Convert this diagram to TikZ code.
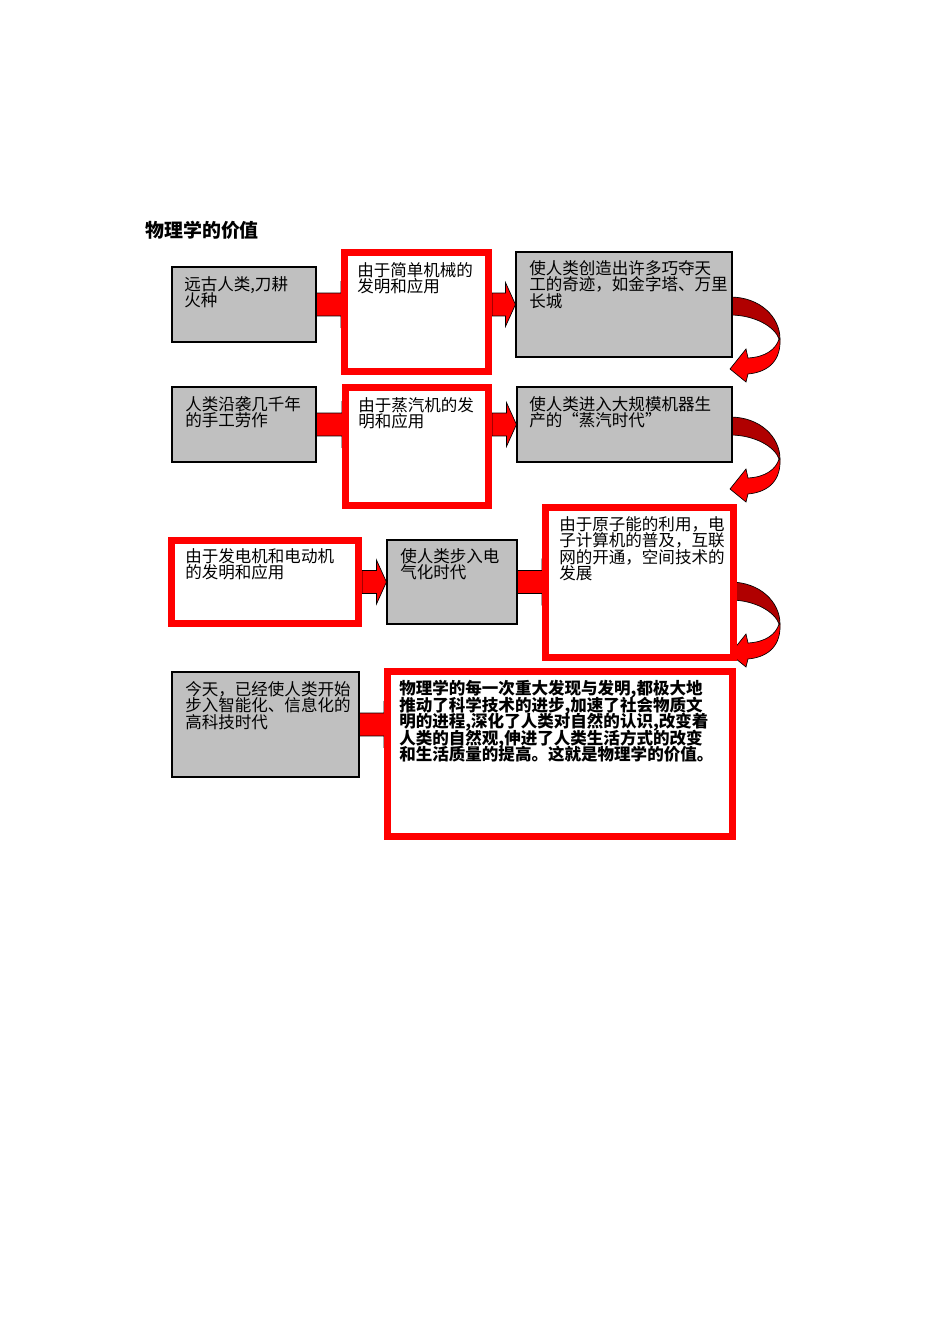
\documentclass[tikz,border=0pt]{standalone}
\usepackage{fontspec}
\setmainfont{Noto Sans CJK SC}
\usetikzlibrary{calc,fit}
\definecolor{boxgray}{HTML}{C0C0C0}
\definecolor{darkred}{HTML}{B00000}
\pgfdeclarelayer{background}
\pgfsetlayers{background,main}
\newcommand\boxfont{\fontsize{12.4}{12.4}\selectfont\lineskiplimit=-20pt\relax}
\tikzset{
  graybox/.style={draw=black, line width=0.8pt, fill=boxgray, inner sep=0pt},
  redbox/.style={draw=red, line width=5.25pt, fill=white, inner sep=0pt},
  txt/.style={anchor=north west, inner sep=0pt, align=left, font=\boxfont},
  heading/.style={anchor=north west, inner sep=0pt, font=\fontsize{14.2}{14}\selectfont\bfseries},
  fatarrow/.style={draw=black, line width=0.5pt, fill=red,
    to path={let \p1=(\tikztostart), \p2=(\tikztotarget) in
      (\x1,\y1+8.6pt) -- (\x2-7.5pt,\y1+8.6pt) -- (\x2-7.5pt,\y1+16.5pt) -- (\x2,\y1)
      -- (\x2-7.5pt,\y1-16.5pt) -- (\x2-7.5pt,\y1-8.6pt) -- (\x1,\y1-8.6pt) -- cycle}},
  bendarrow/.pic={
    \filldraw[fill=darkred, draw=black, line width=0.5pt] (0,0) .. controls (30,0) and (50,20) .. (50,42)
      -- (49,42) .. controls (45,30) and (25,18) .. (0,18) -- cycle;
    \filldraw[fill=red, draw=black, line width=0.5pt] (50,42) .. controls (51,62) and (40,75) .. (18,77)
      -- (16,85) -- (0,72) -- (16,52) -- (18,61) .. controls (36,60) and (46,52) .. (49,42) -- cycle;
  }
}
\begin{document}
\begin{tikzpicture}[x=0.75pt,y=-0.75pt]
\useasboundingbox (0,0) rectangle (950,1344);
\node[heading] (title) at (145,221) {物理学的价值};

% first row
\node[graybox, fit={(172,267) (316,342)}] (a1) {};
\node[redbox, fit={(344.5,252.5) (488.5,371.5)}] (b1) {};
\node[graybox, fit={(516,252) (732,357)}] (c1) {};
\node[txt] (a1t) at (184,276) {远古人类,刀耕\\火种};
\node[txt] (b1t) at (357,262) {由于简单机械的\\发明和应用};
\node[txt] (c1t) at (529,260) {使人类创造出许多巧夺天\\工的奇迹，如金字塔、万里\\长城};

% second row
\node[graybox, fit={(172,387) (316,462)}] (a2) {};
\node[redbox, fit={(345.5,387.5) (488.5,505.5)}] (b2) {};
\node[graybox, fit={(517,387) (732,462)}] (c2) {};
\node[txt] (a2t) at (185,396) {人类沿袭几千年\\的手工劳作};
\node[txt] (b2t) at (358,397) {由于蒸汽机的发\\明和应用};
\node[txt] (c2t) at (529,396) {使人类进入大规模机器生\\产的“蒸汽时代”};

% third row
\node[redbox, fit={(171.5,540.5) (358.5,623.5)}] (a3) {};
\node[graybox, fit={(387,540) (517,624)}] (b3) {};
\node[redbox, fit={(545.5,507.5) (733.5,657.5)}] (c3) {};
\node[txt] (a3t) at (185,548) {由于发电机和电动机\\的发明和应用};
\node[txt] (b3t) at (400,548) {使人类步入电\\气化时代};
\node[txt] (c3t) at (559,516) {由于原子能的利用，电\\子计算机的普及，互联\\网的开通，空间技术的\\发展};

% last row
\node[graybox, fit={(172,672) (359,777)}] (a4) {};
\node[redbox, fit={(387.5,671.5) (732.5,836.5)}] (b4) {};
\node[txt] (a4t) at (185,681) {今天，已经使人类开始\\步入智能化、信息化的\\高科技时代};
\node[txt, font=\boxfont\bfseries] (b4t) at (399,680)
  {物理学的每一次重大发现与发明,都极大地\\推动了科学技术的进步,加速了社会物质文\\明的进程,深化了人类对自然的认识,改变着\\人类的自然观,伸进了人类生活方式的改变\\和生活质量的提高。这就是物理学的价值。};

\begin{pgfonlayer}{background}
\path[fatarrow] (a1.east) to ($(a1.east -| b1.west)+(10,0)$);
\path[fatarrow] (b1.east |- c1.west) to (c1.west);
\path[fatarrow] (a2.east) to ($(a2.east -| b2.west)+(10,0)$);
\path[fatarrow] (b2.east |- c2.west) to (c2.west);
\path[fatarrow] (a3.east |- b3.west) to (b3.west);
\path[fatarrow] (b3.east) to ($(b3.east -| c3.west)+(10,0)$);
\path[fatarrow] (a4.east) to ($(a4.east -| b4.west)+(10,0)$);
\pic at (730,297) {bendarrow};
\pic at (730,417) {bendarrow};
\pic at (730,582) {bendarrow};
\end{pgfonlayer}
\end{tikzpicture}
\end{document}
